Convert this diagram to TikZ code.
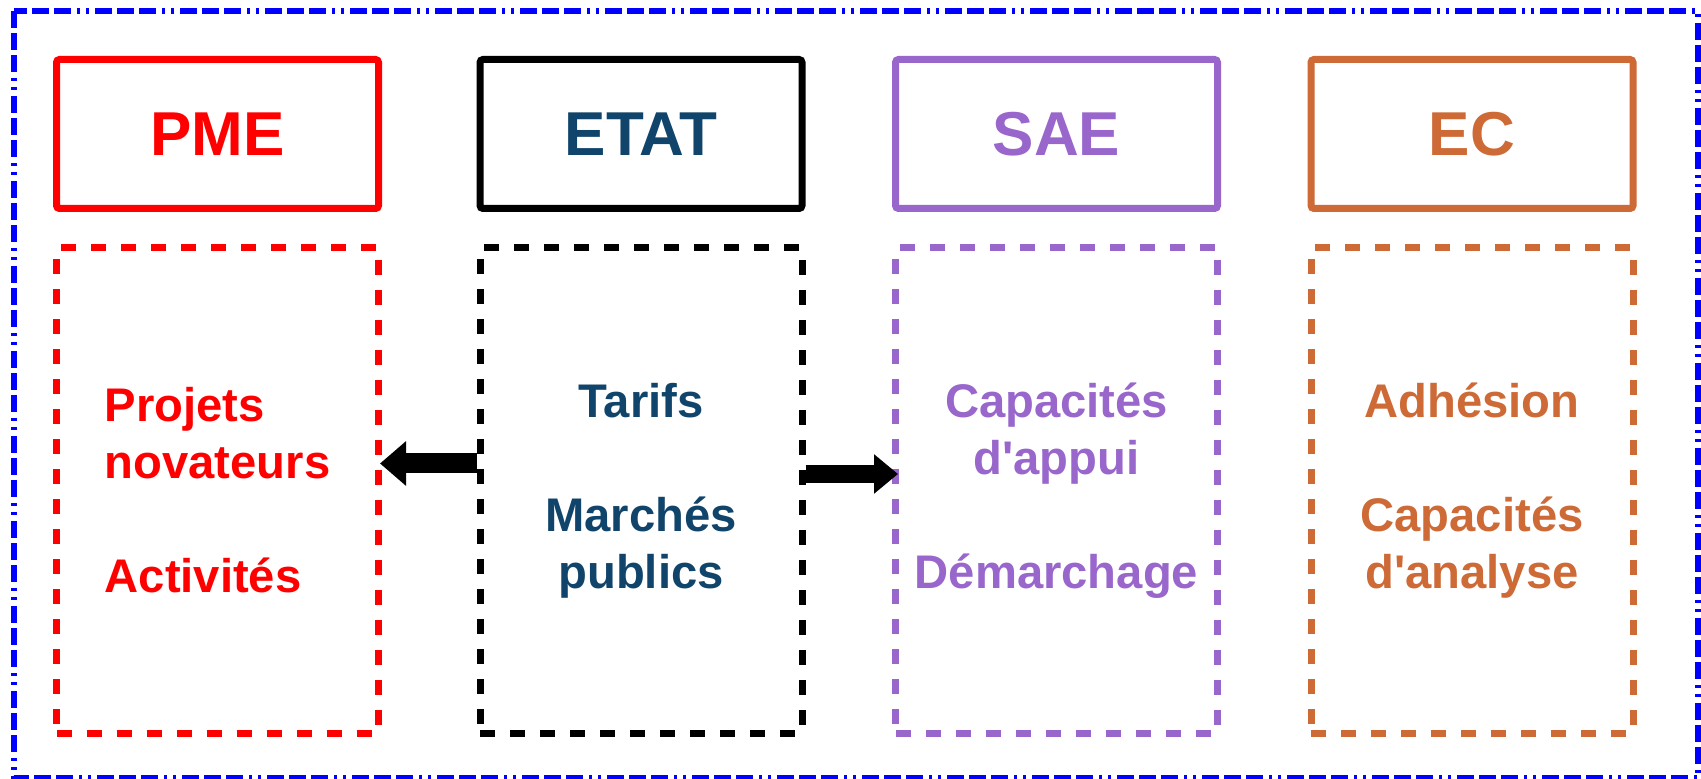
\documentclass[tikz,border=0pt]{standalone}
\usepackage{fontspec}
\setmainfont{Liberation Sans}
\usetikzlibrary{arrows.meta}
\definecolor{pmered}{RGB}{255,0,0}
\definecolor{etatblue}{RGB}{16,68,106}
\definecolor{saepurple}{RGB}{153,102,204}
\definecolor{ecorange}{RGB}{205,106,54}
\definecolor{frameblue}{RGB}{0,0,255}
\begin{document}
\begin{tikzpicture}[x=0.5pt,y=-0.5pt]
	\tikzstyle{every node}+=[inner sep=0pt]
	\tikzstyle{headbox}=[draw, line width=3.5pt, rounded corners=1.5pt, minimum width=161pt, minimum height=74.5pt, font=\fontsize{31}{36}\selectfont\bfseries]
	\tikzstyle{bodybox}=[draw, line width=3.5pt, dash pattern=on 7.5pt off 7.5pt, minimum width=161pt, minimum height=242.5pt, align=center, font=\fontsize{23.6}{28.5}\selectfont\bfseries]
	\tikzstyle{fatarrow}=[black, line width=10pt, -{Triangle[width=21.5pt,length=13pt]}]
	\useasboundingbox (0,0) rectangle (1701,779);
	\draw [frameblue, line width=3pt, dash pattern=on 8.5pt off 2.5pt on 8.5pt off 2.5pt on 8.5pt off 3pt on 1.5pt off 3pt on 1.5pt off 3pt] (14,11) rectangle (1698,778);
	\node [headbox, draw=pmered, text=pmered] (pmehead) at (217.5,134) {PME};
	\node [headbox, draw=black, text=etatblue] (etathead) at (641,134) {ETAT};
	\node [headbox, draw=saepurple, text=saepurple] (saehead) at (1056.5,134) {SAE};
	\node [headbox, draw=ecorange, text=ecorange] (echead) at (1472,134) {EC};
	\node [bodybox, draw=pmered, text=pmered, align=left] (pmebox) at (217.5,490.5) {Projets\\novateurs\\[28.5pt]Activités};
	\node [bodybox, draw=black, text=etatblue] (etatbox) at (641,490.5) {Tarifs\\[28.5pt]Marchés\\publics};
	\node [bodybox, draw=saepurple, text=saepurple] (saebox) at (1056.5,490.5) {Capacités\\d\textquotesingle appui\\[28.5pt]Démarchage};
	\node [bodybox, draw=ecorange, text=ecorange] (ecbox) at (1472,490.5) {Adhésion\\[28.5pt]Capacités\\d\textquotesingle analyse};
	\draw [fatarrow] ([yshift=13.5pt]etatbox.west) -- ([yshift=13.5pt,xshift=-1pt]pmebox.east);
	\draw [fatarrow, line width=9pt, -{Triangle[width=19pt,length=12pt]}] ([yshift=8.25pt]etatbox.east) -- ([yshift=8.25pt,xshift=3pt]saebox.west);
\end{tikzpicture}
\end{document}
